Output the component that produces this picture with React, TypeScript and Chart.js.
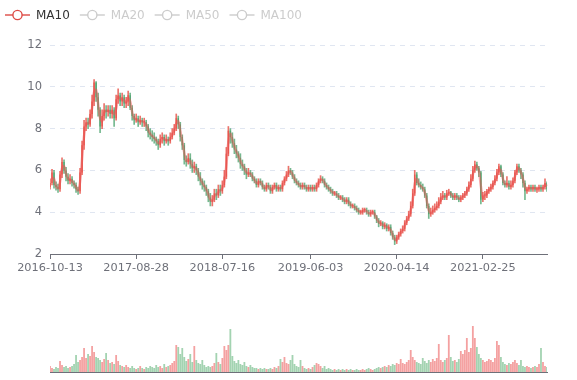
import React, { useEffect, useRef } from 'react';
import { Chart, registerables } from 'chart.js';

Chart.register(...registerables);

const closes: number[] = [
  5.4, 5.9, 5.3, 5.2, 5.1, 5.8, 6.4, 6.0, 5.7, 5.5,
  5.6, 5.4, 5.3, 5.1, 5.0, 5.9, 7.2, 8.1, 8.3, 8.2,
  8.7, 9.3, 10.2, 9.5, 8.9, 8.1, 8.6, 8.9, 8.8, 8.9,
  8.7, 8.9, 8.5, 9.4, 9.6, 9.3, 9.5, 9.2, 9.3, 9.6,
  9.0, 8.6, 8.4, 8.5, 8.3, 8.4, 8.3, 8.3, 8.1, 7.8,
  7.7, 7.6, 7.5, 7.4, 7.2, 7.5, 7.6, 7.4, 7.5, 7.4,
  7.6, 7.8, 8.0, 8.5, 8.2, 7.6, 7.2, 6.5, 6.4, 6.6,
  6.3, 6.1, 6.2, 6.0, 5.7, 5.5, 5.3, 5.2, 5.0, 4.7,
  4.5, 4.6, 4.9, 4.8, 5.1, 5.0, 5.3, 5.7, 6.8, 7.9,
  7.6, 7.3, 7.0, 6.8, 6.6, 6.3, 6.2, 6.0, 5.8, 5.9,
  5.8, 5.6, 5.5, 5.3, 5.5, 5.4, 5.2, 5.1, 5.3, 5.2,
  5.0, 5.2, 5.3, 5.1, 5.2, 5.1, 5.4, 5.6, 5.8, 6.0,
  5.9, 5.7, 5.5, 5.4, 5.3, 5.2, 5.3, 5.2, 5.1, 5.2,
  5.1, 5.2, 5.1, 5.3, 5.5, 5.6, 5.5, 5.3, 5.2, 5.1,
  5.0, 4.9, 4.9, 4.8, 4.7, 4.7, 4.6, 4.5, 4.6, 4.4,
  4.3, 4.3, 4.2, 4.1, 4.0, 4.0, 4.1, 4.1, 4.0, 3.9,
  4.0, 4.0, 3.8, 3.6, 3.45, 3.5, 3.3, 3.4, 3.2, 3.3,
  3.0, 2.8, 2.6, 2.8, 2.95, 3.1, 3.2, 3.5, 3.7, 3.9,
  4.3, 4.9, 5.8, 5.4, 5.3, 5.2, 5.1, 4.8, 4.3, 3.9,
  4.0, 4.1, 4.2, 4.3, 4.5, 4.7, 4.8, 4.7, 4.9, 4.95,
  4.8, 4.7, 4.8, 4.7, 4.6, 4.7, 4.8, 4.9, 5.1, 5.3,
  5.6, 6.0, 6.3, 6.1, 5.9, 4.6, 4.8, 4.8, 5.0, 5.1,
  5.2, 5.4, 5.6, 5.9, 6.2, 5.8, 5.4, 5.3, 5.4, 5.2,
  5.3, 5.5, 5.9, 6.2, 6.0, 5.8, 5.4, 5.0, 5.1, 5.2,
  5.1, 5.2, 5.1, 5.1, 5.2, 5.1, 5.2, 5.4, 5.1,
];
const firstOpen = 5.2;

const highs: number[] = [
  5.6, 6.05, 6.0, 5.45, 5.35, 5.95, 6.6, 6.5, 6.15, 5.85,
  5.8, 5.7, 5.5, 5.4, 5.2, 6.1, 7.4, 8.4, 8.5, 8.5,
  8.9, 9.6, 10.35, 10.25, 9.7, 9.0, 8.9, 9.2, 9.1, 9.1,
  9.1, 9.1, 9.0, 9.6, 9.9, 9.7, 9.7, 9.6, 9.5, 9.8,
  9.7, 9.1, 8.7, 8.7, 8.6, 8.6, 8.5, 8.5, 8.4, 8.2,
  8.0, 7.9, 7.8, 7.6, 7.5, 7.7, 7.8, 7.7, 7.7, 7.6,
  7.8, 8.0, 8.2, 8.7, 8.6, 8.3, 7.7, 7.3, 6.7, 6.8,
  6.8, 6.5, 6.4, 6.3, 6.1, 5.9, 5.6, 5.5, 5.3, 5.1,
  4.9, 4.8, 5.1, 5.1, 5.3, 5.3, 5.5, 6.0, 7.1, 8.1,
  8.0, 7.8, 7.5, 7.2, 6.9, 6.8, 6.5, 6.3, 6.1, 6.1,
  6.0, 5.9, 5.7, 5.6, 5.6, 5.6, 5.5, 5.3, 5.4, 5.4,
  5.3, 5.3, 5.4, 5.4, 5.3, 5.3, 5.5, 5.7, 5.95, 6.2,
  6.1, 6.0, 5.8, 5.6, 5.5, 5.4, 5.4, 5.4, 5.3, 5.3,
  5.3, 5.3, 5.3, 5.4, 5.6, 5.75, 5.7, 5.6, 5.4, 5.3,
  5.2, 5.1, 5.0, 5.0, 4.9, 4.8, 4.8, 4.7, 4.7, 4.7,
  4.5, 4.4, 4.4, 4.3, 4.2, 4.1, 4.2, 4.2, 4.2, 4.1,
  4.1, 4.1, 4.1, 3.85, 3.7, 3.6, 3.55, 3.5, 3.45, 3.4,
  3.4, 3.1, 2.9, 2.9, 3.05, 3.2, 3.35, 3.6, 3.8, 4.05,
  4.5, 5.1, 6.0, 5.9, 5.6, 5.45, 5.35, 5.2, 4.9, 4.4,
  4.2, 4.3, 4.4, 4.5, 4.7, 4.9, 5.0, 4.9, 5.05, 5.1,
  5.0, 4.9, 4.9, 4.9, 4.8, 4.8, 4.9, 5.0, 5.2, 5.45,
  5.8, 6.2, 6.45, 6.4, 6.2, 5.95, 4.95, 5.0, 5.1, 5.2,
  5.35, 5.5, 5.75, 6.05, 6.3, 6.25, 5.9, 5.5, 5.7, 5.5,
  5.5, 5.65, 6.0, 6.3, 6.3, 6.1, 5.9, 5.5, 5.2, 5.3,
  5.3, 5.3, 5.3, 5.2, 5.3, 5.3, 5.3, 5.6, 5.45,
];

const lows: number[] = [
  5.1, 5.3, 5.15, 5.05, 4.95, 5.0, 5.65, 5.85, 5.5, 5.35,
  5.35, 5.25, 5.15, 4.95, 4.85, 4.9, 5.8, 7.0, 7.9, 8.0,
  8.1, 8.5, 9.1, 9.3, 8.6, 7.8, 8.0, 8.4, 8.5, 8.6,
  8.5, 8.5, 8.1, 8.4, 9.2, 9.1, 9.1, 9.0, 9.0, 9.1,
  8.9, 8.4, 8.2, 8.3, 8.1, 8.2, 8.1, 8.1, 7.9, 7.6,
  7.5, 7.4, 7.3, 7.2, 7.0, 7.1, 7.3, 7.2, 7.3, 7.2,
  7.3, 7.5, 7.7, 7.9, 8.0, 7.4, 7.0, 6.3, 6.2, 6.3,
  6.1, 5.9, 5.9, 5.8, 5.5, 5.3, 5.1, 5.0, 4.8, 4.5,
  4.3, 4.3, 4.5, 4.6, 4.7, 4.8, 4.9, 5.2, 5.6, 6.7,
  7.3, 7.1, 6.8, 6.6, 6.4, 6.1, 6.0, 5.8, 5.6, 5.7,
  5.7, 5.5, 5.4, 5.2, 5.2, 5.3, 5.1, 5.0, 5.0, 5.1,
  4.9, 4.9, 5.1, 5.0, 5.0, 5.0, 5.0, 5.3, 5.5, 5.7,
  5.8, 5.6, 5.4, 5.3, 5.2, 5.1, 5.1, 5.1, 5.0, 5.0,
  5.0, 5.0, 5.0, 5.0, 5.2, 5.4, 5.4, 5.2, 5.1, 5.0,
  4.9, 4.8, 4.8, 4.7, 4.6, 4.6, 4.5, 4.4, 4.4, 4.3,
  4.2, 4.2, 4.1, 4.0, 3.9, 3.9, 3.9, 4.0, 3.9, 3.8,
  3.8, 3.9, 3.7, 3.5, 3.3, 3.35, 3.2, 3.2, 3.1, 3.1,
  2.9, 2.7, 2.45, 2.5, 2.7, 2.85, 3.0, 3.1, 3.4, 3.6,
  3.8, 4.2, 4.8, 5.3, 5.2, 5.1, 5.0, 4.7, 4.2, 3.7,
  3.8, 3.9, 4.0, 4.1, 4.2, 4.4, 4.6, 4.6, 4.6, 4.8,
  4.7, 4.6, 4.6, 4.6, 4.5, 4.5, 4.6, 4.7, 4.8, 5.0,
  5.2, 5.5, 5.9, 6.0, 5.7, 4.4, 4.5, 4.6, 4.7, 4.9,
  5.0, 5.1, 5.3, 5.5, 5.8, 5.7, 5.3, 5.2, 5.2, 5.1,
  5.1, 5.2, 5.4, 5.8, 5.9, 5.6, 5.2, 4.6, 4.9, 5.0,
  5.0, 5.0, 5.0, 4.95, 5.0, 5.0, 5.0, 5.1, 5.0,
];

// Volume (arbitrary units)
const volumes: number[] = [
  6, 4, 3, 5, 4, 11, 7, 5, 6, 4,
  5, 6, 8, 17, 10, 12, 15, 24, 14, 18,
  16, 26, 20, 15, 14, 12, 10, 13, 19, 12,
  9, 10, 8, 17, 11, 7, 6, 5, 7, 5,
  4, 6, 4, 3, 4, 6, 4, 3, 5, 4,
  6, 5, 4, 7, 5, 6, 4, 8, 5, 6,
  7, 9, 11, 27, 25, 18, 24, 15, 11, 13,
  18, 10, 26, 12, 9, 8, 12, 7, 5, 6,
  5, 6, 9, 19, 10, 8, 14, 26, 22, 27,
  43, 16, 11, 9, 12, 8, 7, 10, 6, 5,
  7, 5, 4, 4, 3, 4, 3, 4, 3, 3,
  4, 3, 5, 4, 6, 13, 10, 15, 9, 8,
  12, 17, 8, 6, 5, 12, 6, 4, 3, 4,
  3, 5, 7, 9, 8, 6, 4, 6, 3, 4,
  3, 2, 3, 2, 3, 2, 3, 2, 3, 2,
  3, 2, 2, 3, 2, 2, 3, 2, 3, 4,
  3, 2, 3, 4, 5, 4, 5, 6, 5, 7,
  6, 8, 7, 9, 8, 13, 9, 8, 10, 12,
  22, 15, 12, 10, 9, 8, 14, 11, 9, 12,
  10, 13, 11, 14, 28, 12, 10, 12, 14, 37,
  15, 11, 12, 10, 13, 21, 18, 22, 34, 20,
  24, 46, 34, 25, 18, 14, 12, 10, 11, 13,
  12, 10, 14, 31, 27, 15, 10, 8, 7, 9,
  8, 10, 12, 9, 7, 12, 6, 5, 6, 5,
  4, 5, 6, 5, 8, 24, 10, 6, 5,
];

const tickIndex: number[] = [0, 43, 86, 130, 173, 216];
const tickLabels: string[] = ['2016-10-13', '2017-08-28', '2018-07-16', '2019-06-03', '2020-04-14', '2021-02-25'];

const legendNames: string[] = ['MA10', 'MA20', 'MA50', 'MA100'];
const maWindows: number[] = [2, 4, 10, 20];

const UP = 'rgba(230,80,70,0.8)';
const DOWN = 'rgba(71,160,105,0.75)';
const UPV = 'rgba(235,84,84,0.55)';
const DOWNV = 'rgba(71,168,100,0.5)';
const AXIS = '#6E7079';
const FONT = 'DejaVu Sans';

const legendPlugin = {
  id: 'maLegend',
  afterDraw(chart: any) {
    const ctx = chart.ctx as CanvasRenderingContext2D;
    ctx.save();
    ctx.font = `12px "${FONT}"`;
    ctx.textBaseline = 'middle';
    let x = 5;
    const y = 15;
    legendNames.forEach((name, i) => {
      const active = i === 0;
      const color = active ? '#dd4b45' : '#cccccc';
      ctx.strokeStyle = color;
      ctx.lineWidth = 1.4;
      ctx.beginPath();
      ctx.moveTo(x, y);
      ctx.lineTo(x + 25, y);
      ctx.stroke();
      ctx.beginPath();
      ctx.arc(x + 12.5, y, 4.6, 0, Math.PI * 2);
      ctx.fillStyle = '#fff';
      ctx.fill();
      ctx.stroke();
      ctx.fillStyle = active ? '#333333' : '#cccccc';
      ctx.fillText(name, x + 31, y + 0.5);
      x += 31 + ctx.measureText(name).width + 10;
    });
    ctx.restore();
  },
};

export default function App() {
  const priceRef = useRef<HTMLCanvasElement>(null);
  const volRef = useRef<HTMLCanvasElement>(null);

  useEffect(() => {
    Chart.defaults.font.family = FONT;
    const opens = closes.map((c, i) => (i === 0 ? firstOpen : closes[i - 1]));
    const up = closes.map((c, i) => c >= opens[i]);
    const labels = closes.map((_, i) => String(i));
    const ma = (n: number) =>
      closes.map((_, i) => {
        if (i < n - 1) return null;
        let s = 0;
        for (let k = i - n + 1; k <= i; k++) s += closes[k];
        return s / n;
      });

    const lineSets = legendNames.map((name, i) => ({
      type: 'line' as const,
      label: name,
      data: ma(maWindows[i]),
      borderColor: 'rgba(235,84,84,0.5)',
      borderWidth: 2.5,
      pointRadius: 0,
      tension: 0.4,
      hidden: i !== 0,
      order: 0,
    }));

    const price = new Chart(priceRef.current!, {
      type: 'bar',
      data: {
        labels,
        datasets: [
          ...lineSets,
          {
            type: 'bar' as const,
            label: 'body',
            data: closes.map((c, i) => [opens[i], c]) as any,
            backgroundColor: up.map((u) => (u ? UP : DOWN)),
            barPercentage: 1,
            categoryPercentage: 0.75,
            minBarLength: 1,
            grouped: false,
            order: 1,
          },
          {
            type: 'bar' as const,
            label: 'wick',
            data: closes.map((_, i) => [lows[i], highs[i]]) as any,
            backgroundColor: up.map((u) => (u ? UP : DOWN)),
            barThickness: 1,
            grouped: false,
            order: 2,
          },
        ] as any,
      },
      options: {
        animation: false,
        responsive: false,
        layout: { padding: { top: 45, right: 30, left: 0, bottom: 0 } },
        plugins: { legend: { display: false }, tooltip: { enabled: false } },
        scales: {
          x: {
            offset: false,
            grid: { display: true, drawOnChartArea: false, drawTicks: true, tickLength: 5, color: AXIS, offset: false },
            border: { display: true, color: AXIS },
            ticks: {
              autoSkip: false,
              maxRotation: 0,
              color: AXIS,
              padding: 2,
              font: { size: 11.3, family: FONT },
              callback: (v: any) => {
                const k = tickIndex.indexOf(Number(v));
                return k >= 0 ? tickLabels[k] : '';
              },
            },
            afterBuildTicks: (s: any) => {
              s.ticks = tickIndex.map((v) => ({ value: v }));
            },
            afterFit: (s: any) => {
              s.height = 27;
            },
          },
          y: {
            min: 2,
            max: 12,
            ticks: { stepSize: 2, color: AXIS, padding: 8, font: { size: 11.5, family: FONT } },
            grid: { color: '#E0E6F1', drawTicks: false },
            border: { display: false, dash: [5, 5] },
            afterFit: (s: any) => {
              s.width = 50;
            },
          },
        },
      } as any,
      plugins: [legendPlugin],
    });

    const vol = new Chart(volRef.current!, {
      type: 'bar',
      data: {
        labels,
        datasets: [
          {
            label: 'Volume',
            data: volumes,
            backgroundColor: up.map((u) => (u ? UPV : DOWNV)),
            barPercentage: 1,
            categoryPercentage: 0.9,
          },
        ],
      },
      options: {
        animation: false,
        responsive: false,
        layout: { padding: { top: 10, right: 30, left: 50, bottom: 8 } },
        plugins: { legend: { display: false }, tooltip: { enabled: false } },
        scales: {
          x: {
            offset: false,
            grid: { display: false, drawTicks: false, offset: false },
            ticks: { display: false },
            border: { display: true, color: AXIS },
            afterFit: (s: any) => {
              s.height = 0;
            },
          },
          y: { display: false, min: 0, max: 72 },
        },
      } as any,
    });

    return () => {
      price.destroy();
      vol.destroy();
    };
  }, []);

  return (
    <div style={{ position: 'absolute', left: 0, top: 0, width: 577, height: 380, background: '#fff' }}>
      <canvas ref={priceRef} width={577} height={281} style={{ position: 'absolute', left: 0, top: 0, width: 577, height: 281 }} />
      <canvas ref={volRef} width={577} height={90} style={{ position: 'absolute', left: 0, top: 290, width: 577, height: 90 }} />
    </div>
  );
}
